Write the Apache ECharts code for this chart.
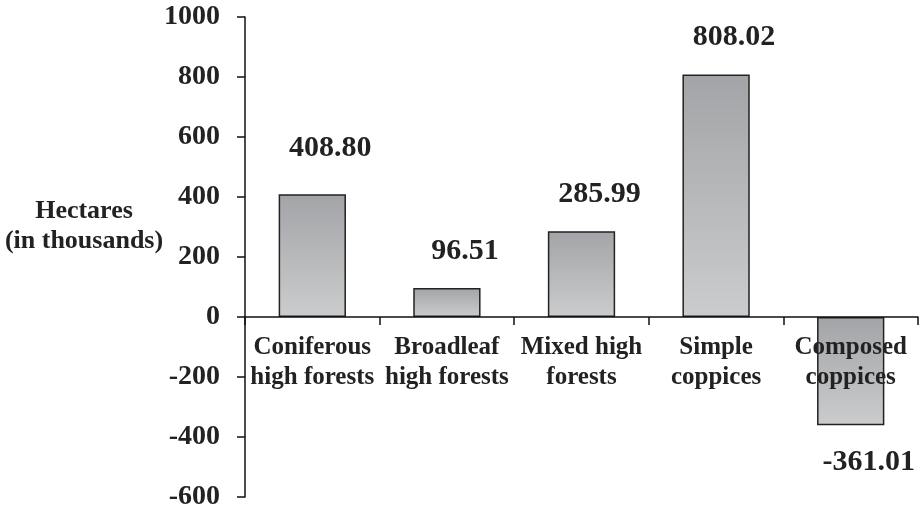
<!DOCTYPE html>
<html>
<head>
<meta charset="utf-8">
<script src="https://cdn.jsdelivr.net/npm/echarts@6/dist/echarts.min.js"></script>
<style>html,body{margin:0;padding:0;background:#fff}#c{width:921px;height:512px}</style>
</head>
<body>
<div id="c"></div>
<script>
var categories = ["Coniferous\nhigh forests", "Broadleaf\nhigh forests", "Mixed high\nforests", "Simple\ncoppices", "Composed\ncoppices"];
var values = [408.80, 96.51, 285.99, 808.02, -361.01];
var yTicks = [-600, -400, -200, 0, 200, 400, 600, 800, 1000];
var axisTitle = "Hectares\n(in thousands)";

var labelDist = [31, 22, 22, 22, 22];
var FONT = '"Liberation Serif", "Times New Roman", serif';

var chart = echarts.init(document.getElementById('c'), null, {renderer: 'canvas'});
var data = values.map(function (v, i) {
  return {
    value: v,
    label: {
      position: v < 0 ? 'bottom' : 'top',
      distance: labelDist[i]
    }
  };
});

chart.setOption({
  animation: false,
  backgroundColor: '#fff',
  grid: {left: 245, right: 3, top: 17, bottom: 15, containLabel: false, outerBoundsMode: 'none'},
  xAxis: {
    type: 'category',
    data: categories,
    position: 'bottom',
    offset: -180,
    z: 5,
    axisLine: {onZero: false, lineStyle: {color: '#111', width: 1.5}},
    axisTick: {show: true, inside: false, length: 8, alignWithLabel: false, lineStyle: {color: '#111', width: 1.5}},
    axisLabel: {
      margin: 16,
      fontFamily: FONT, fontWeight: 'bold', fontSize: 25, lineHeight: 30,
      color: '#222', interval: 0
    },
    splitLine: {show: false}
  },
  yAxis: {
    type: 'value',
    min: yTicks[0], max: yTicks[yTicks.length - 1], interval: 200,
    axisLine: {show: true, onZero: false, lineStyle: {color: '#111', width: 1.5}},
    axisTick: {show: true, length: 8, lineStyle: {color: '#111', width: 1.5}},
    axisLabel: {
      margin: 25,
      fontFamily: FONT, fontWeight: 'bold', fontSize: 28, color: '#222',
      formatter: function (v) { return String(v); }
    },
    splitLine: {show: false}
  },
  graphic: [{
    type: 'text',
    x: 84, y: 226,
    style: {
      text: axisTitle,
      fontFamily: FONT, fontWeight: 'bold', fontSize: 26, lineHeight: 30,
      fill: '#222', align: 'center', verticalAlign: 'middle'
    }
  }],
  series: [{
    type: 'bar',
    data: data,
    barWidth: '50%',
    z: 2,
    itemStyle: {
      color: new echarts.graphic.LinearGradient(0, 0, 0, 1, [
        {offset: 0, color: '#a3a4a7'},
        {offset: 1, color: '#cbcccd'}
      ]),
      borderColor: '#222',
      borderWidth: 1.5
    },
    label: {
      show: true,
      offset: [18, 0],
      fontFamily: FONT, fontWeight: 'bold', fontSize: 30, color: '#222',
      formatter: function (p) { return p.value.toFixed(2); }
    }
  }]
});
</script>
</body>
</html>
